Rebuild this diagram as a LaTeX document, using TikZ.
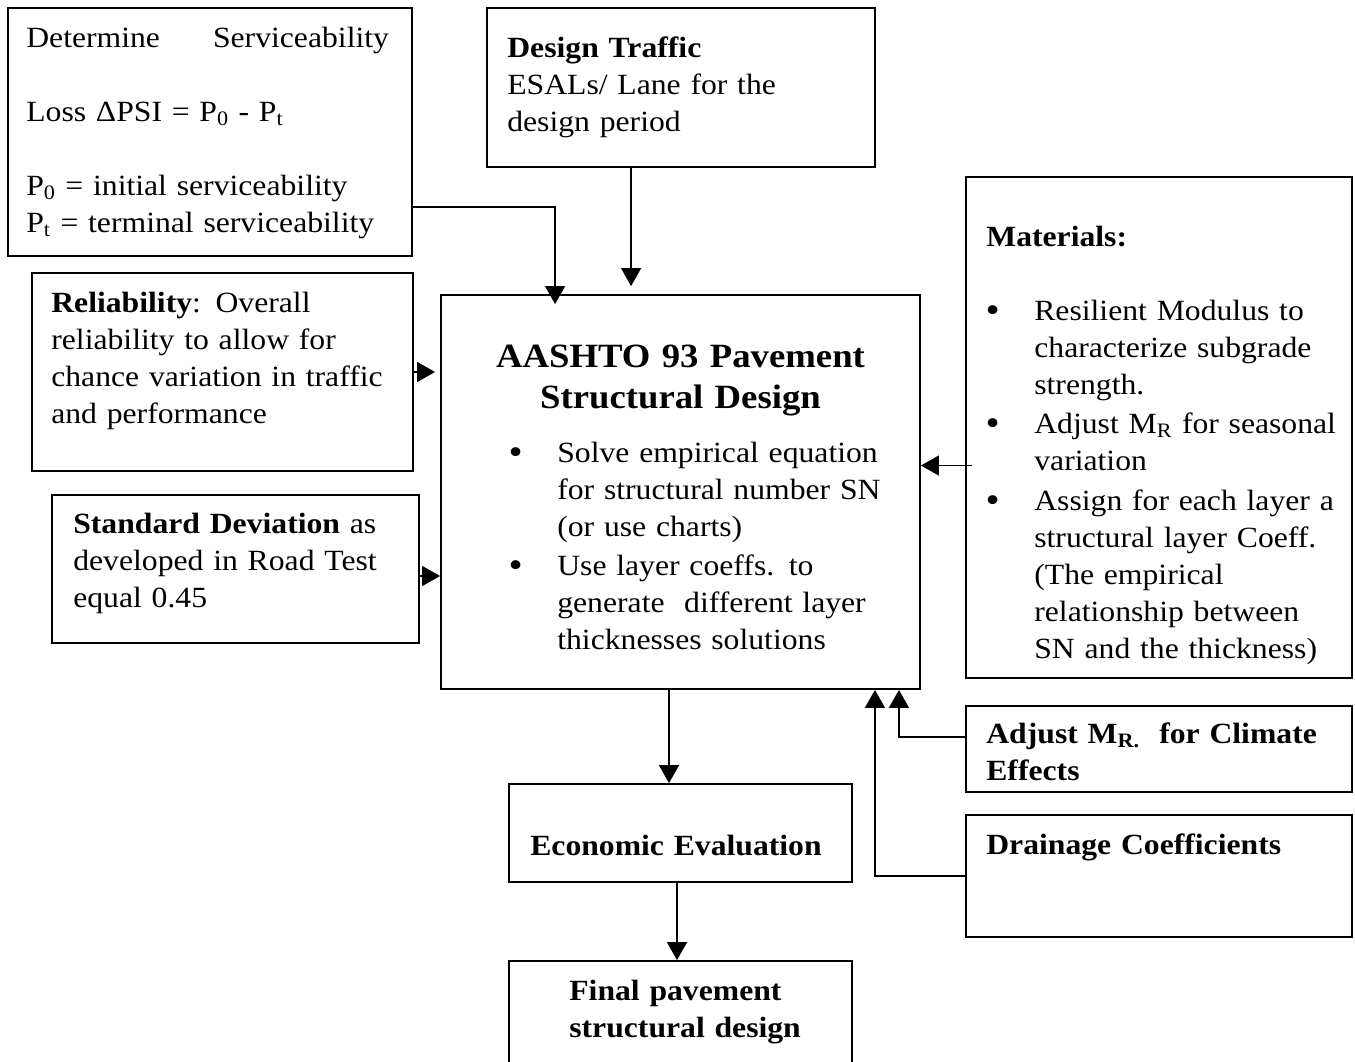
\documentclass[tikz,border=0pt]{standalone}
\usepackage{fontspec}
\setmainfont{Liberation Serif}[FakeStretch=1.08]
\usetikzlibrary{arrows.meta, positioning, calc, fit}

\newcommand{\bodysize}{\fontsize{22}{27.75}\selectfont}
\newcommand{\titlesize}{\fontsize{25.5}{31}\selectfont\bfseries}
\newcommand{\bul}{\leavevmode\llap{\raisebox{-1.5pt}{\fontsize{28}{0}\selectfont\textbullet}\hspace{26pt}}}

\tikzset{
  box/.style={draw, line width=1.4pt, inner sep=0pt},
  txt/.style={anchor=base west, inner sep=0pt, align=left, font=\bodysize},
  arr/.style={-{Triangle[length=13.5pt, width=15pt]}, line width=1.1pt},
}

\begin{document}
\begin{tikzpicture}[x=0.75pt, y=-0.75pt]
  \useasboundingbox (0,0) rectangle (1355,1061);

  % boxes
  \node[box, fit={(8,8) (412,256)}] (serv) {};
  \node[box, fit={(487,8) (875,167)}] (traffic) {};
  \node[box, fit={(32,273) (413,471)}] (rel) {};
  \node[box, fit={(52,495) (419,643)}] (std) {};
  \node[box, fit={(441,295) (920,689)}] (main) {};
  \node[box, fit={(966,177) (1352,678)}] (mat) {};
  \node[box, fit={(966,706) (1352,792)}] (adj) {};
  \node[box, fit={(966,815) (1352,937)}] (drain) {};
  \node[box, fit={(509,784) (852,882)}] (econ) {};
  \node[box, fit={(509,961) (852,1080)}] (final) {};

  % texts
  \node[txt, text width=272pt] (servtxt) at ($(serv.north west)+(19,40)$)
    {\makebox[\linewidth][s]{Determine\hfill Serviceability}\\[27.75pt]
     Loss ΔPSI = P\textsubscript{0} - P\textsubscript{t}\\[27.75pt]
     P\textsubscript{0} = initial serviceability\\
     P\textsubscript{t} = terminal serviceability};
  \node[txt, text width=260pt] (traffictxt) at ($(traffic.north west)+(21,50)$)
    {\textbf{Design Traffic}\\ESALs/ Lane for the\\design period};
  \node[txt, text width=266pt] (reltxt) at ($(rel.north west)+(20,40)$)
    {\textbf{Reliability}: Overall\\reliability to allow for\\chance variation in traffic\\and performance};
  \node[txt, text width=255pt] (stdtxt) at ($(std.north west)+(22,39)$)
    {\textbf{Standard Deviation} as\\developed in Road Test\\equal 0.45};
  \node[txt, anchor=base, align=center, text width=330pt, font=\titlesize] (maintitle)
    at ($(main.north)+(0,73)$) {AASHTO 93 Pavement\\Structural Design};
  \node[txt, text width=264pt] (maintxt) at ($(main.north west)+(117,168)$)
    {\bul Solve empirical equation\\for structural number SN\\(or use charts)\\[2pt]
     \bul Use layer coeffs. to\\generate\ \ different layer\\thicknesses solutions};
  \node[txt, text width=270pt] (mathead) at ($(mat.north west)+(21,70)$) {\textbf{Materials:}};
  \node[txt, text width=235pt] (mattxt) at ($(mat.north west)+(69,144)$)
    {\bul Resilient Modulus to\\characterize subgrade\\strength.\\[2pt]
     \bul Adjust M\textsubscript{R} for seasonal\\variation\\[2pt]
     \bul Assign for each layer a\\structural layer Coeff.\\(The empirical\\relationship between\\SN and the thickness)};
  \node[txt, text width=270pt, font=\bodysize\bfseries] (adjtxt) at ($(adj.north west)+(21,38)$)
    {Adjust M\textsubscript{R.}\ \ for Climate\\Effects};
  \node[txt, text width=270pt, font=\bodysize\bfseries] (draintxt) at ($(drain.north west)+(21,40)$)
    {Drainage Coefficients};
  \node[txt, anchor=base, align=center, text width=250pt, font=\bodysize\bfseries] (econtxt)
    at ($(econ.north)+(-4.5,72)$) {Economic Evaluation};
  \node[txt, text width=195pt, font=\bodysize\bfseries] (finaltxt) at ($(final.north west)+(61,40)$)
    {Final pavement\\structural design};

  % connectors
  \draw[arr] ($(serv.south east)!0.2!(serv.north east)$) -| ($(main.north west)+(115,10)$);
  \draw[arr] ($(traffic.south west)+(145,0)$) -- ($(main.north west)+(191,-8)$);
  \draw[arr, shorten >=3.75pt] (rel.east) -- (rel.east -| main.west);
  \coordinate (stdout) at ($(std.east)+(0,7)$);
  \draw[arr] (stdout) -- (stdout -| main.west);
  \coordinate (matin) at ($(mat.west)+(7,38)$);
  \draw[arr] (matin) -- (matin -| main.east);
  \coordinate (mainout) at ($(main.south)+(-11.5,0)$);
  \draw[arr] (mainout) -- (mainout |- econ.north);
  \coordinate (econout) at ($(econ.south)+(-3.5,0)$);
  \draw[arr] (econout) -- (econout |- final.north);
  \coordinate (adjout) at ($(adj.west)+(0,-12)$);
  \draw[arr] (adjout) -| ($(main.south east)+(-22,0)$);
  \draw[arr] (drain.west) -| ($(main.south east)+(-46,0)$);
\end{tikzpicture}
\end{document}
